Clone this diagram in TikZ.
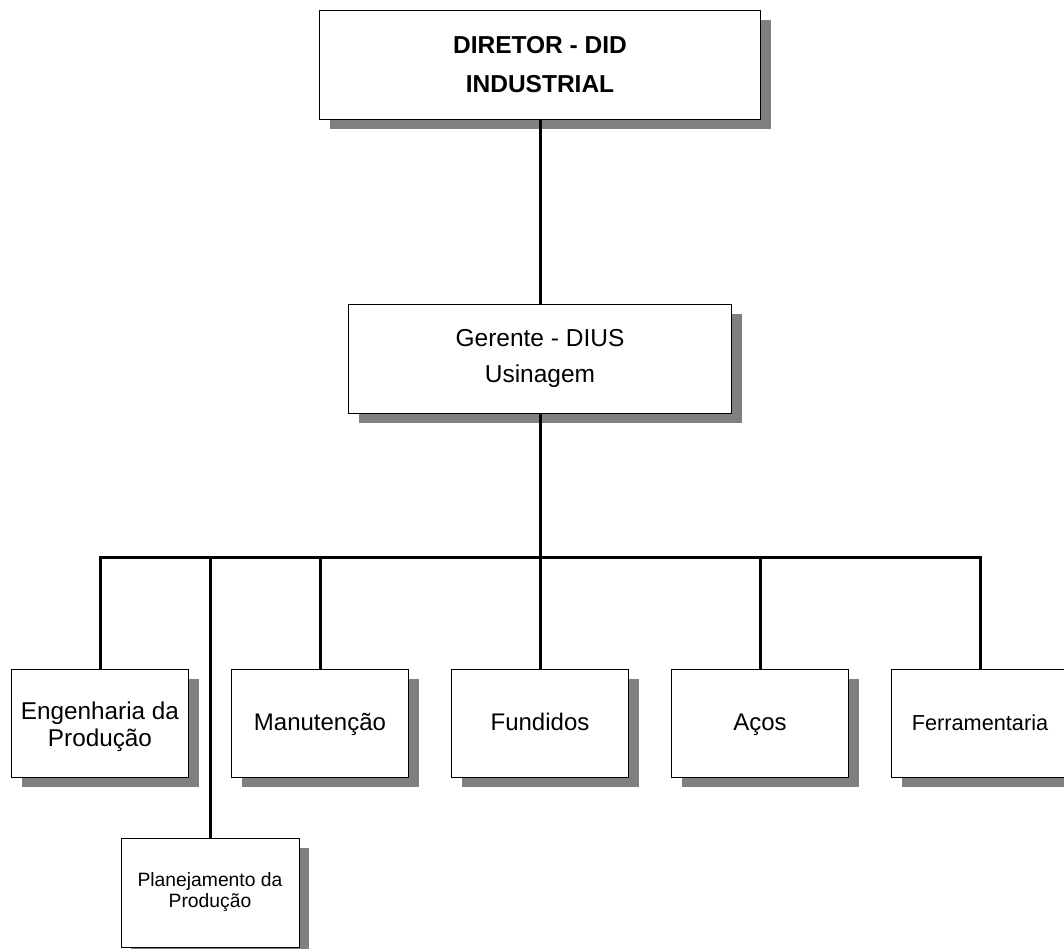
\documentclass[tikz,border=0pt]{standalone}
\usepackage{fontspec}
\setmainfont{Liberation Sans}
\usetikzlibrary{shadows}
\definecolor{shadowgray}{HTML}{808080}
\tikzset{
  orgbox/.style={draw=black, line width=1pt, fill=white, align=center,
    inner sep=0pt, outer sep=0pt,
    drop shadow={shadow xshift=10pt, shadow yshift=-10pt, fill=shadowgray, opacity=1}},
  unitbox/.style={orgbox, minimum width=177pt, minimum height=108pt,
    font=\fontsize{24}{27}\selectfont},
  oneline/.style={text height=19pt, text depth=5pt},
  link/.style={draw=black, line width=3pt, line join=miter}
}
\begin{document}
\begin{tikzpicture}[x=1pt, y=-1pt]
  \useasboundingbox (0,0) rectangle (1064,949);
  \clip (0,0) rectangle (1064,949);

  % top of the hierarchy
  \node[orgbox, minimum width=441pt, minimum height=109pt,
        font=\bfseries\fontsize{24.5}{39}\selectfont] (dir) at (540,65)
        {DIRETOR - DID\\INDUSTRIAL};

  \node[orgbox, minimum width=383pt, minimum height=109pt,
        font=\fontsize{24.5}{36}\selectfont] (ger) at (540,358.5)
        {Gerente - DIUS\\Usinagem};

  % departments
  \node[unitbox, font=\fontsize{24.3}{27}\selectfont] (eng) at (100,723)
        {\rule{0pt}{25pt}Engenharia da\\Produção};
  \node[unitbox, oneline] (man) at (320,723) {Manutenção};
  \node[unitbox, oneline] (fun) at (540,723) {Fundidos};
  \node[unitbox, oneline] (aco) at (760,723) {Aços};
  \node[unitbox, oneline, font=\fontsize{21.7}{26}\selectfont] (fer) at (980,723) {Ferramentaria};
  \node[orgbox, minimum width=178pt, minimum height=109pt,
        font=\fontsize{19.3}{21}\selectfont] (pla) at (210,892.5)
        {Planejamento da\\Produção};

  % connectors
  \coordinate (bus) at (540,557);
  \draw[link] (dir.south) -- (ger.north);
  \draw[link] (ger.south) -- (bus);
  \draw[link] (eng.north) |- (bus);
  \draw[link] (pla.north) |- (bus);
  \draw[link] (man.north) |- (bus);
  \draw[link] (fun.north) -- (bus);
  \draw[link] (aco.north) |- (bus);
  \draw[link] (fer.north) |- (bus);
\end{tikzpicture}
\end{document}
